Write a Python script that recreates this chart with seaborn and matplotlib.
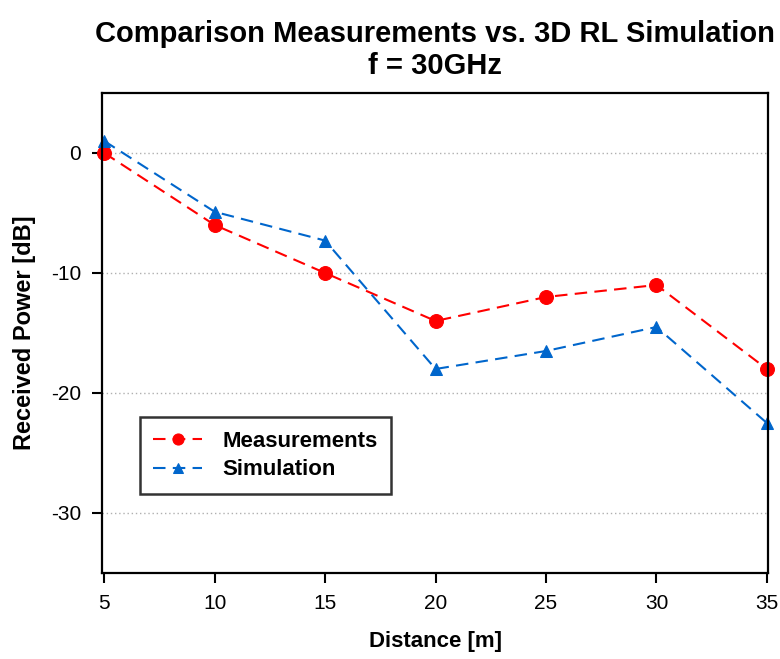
import matplotlib
matplotlib.use("Agg")
import matplotlib.pyplot as plt
import seaborn as sns
import pandas as pd

distance = [5, 10, 15, 20, 25, 30, 35]
measurements = [0, -6, -10, -14, -12, -11, -18]
simulation = [1, -4.9, -7.3, -18, -16.5, -14.5, -22.5]
series_names = ["Measurements", "Simulation"]
y_ticks = [0, -10, -20, -30]
x_ticks = [5, 10, 15, 20, 25, 30, 35]

sns.set_theme(style="white")
plt.rcParams['font.family'] = ['Liberation Sans', 'DejaVu Sans']
plt.rcParams['axes.unicode_minus'] = False
plt.rcParams['text.color'] = 'black'
plt.rcParams['axes.labelcolor'] = 'black'
plt.rcParams['xtick.color'] = 'black'
plt.rcParams['ytick.color'] = 'black'

df = pd.DataFrame({
    "Distance": distance * 2,
    "Power": measurements + simulation,
    "Series": [series_names[0]] * len(distance) + [series_names[1]] * len(distance),
})

fig = plt.figure(figsize=(7.8, 6.59), dpi=100)
ax = fig.add_axes([0.1308, 0.1305, 0.8538, 0.7284])

palette = {"Measurements": "#FF0000", "Simulation": "#0066CC"}
markers = {"Measurements": "o", "Simulation": "^"}
for name in series_names:
    sub = df[df["Series"] == name]
    sns.lineplot(data=sub, x="Distance", y="Power", ax=ax, color=palette[name],
                 marker=markers[name], markersize=10 if name == "Measurements" else 9,
                 markeredgecolor=palette[name], linewidth=1.5,
                 linestyle=(0, (6, 3.5)), label=name, clip_on=False)

ax.set_xlim(4.9, 35.05)
ax.set_ylim(-35, 5)
ax.set_xticks(x_ticks)
ax.set_yticks(y_ticks)
ax.tick_params(axis="both", which="major", direction="out", length=7, width=1.5,
               labelsize=15, color="black", bottom=True, left=True, pad=8)
for s in ax.spines.values():
    s.set_color("black")
    s.set_linewidth(1.6)
ax.yaxis.grid(True, linestyle=(0, (1, 2)), color="#b0b0b0", linewidth=1)
ax.xaxis.grid(False)

ax.set_xlabel("Distance [m]", fontsize=16, fontweight="bold", labelpad=13)
ax.set_ylabel("Received Power [dB]", fontsize=17, fontweight="bold", labelpad=11)
ax.set_title("Comparison Measurements vs. 3D RL Simulation\nf = 30GHz",
             fontsize=21, fontweight="bold", pad=14, linespacing=1.15)

leg = ax.legend(loc="lower left", bbox_to_anchor=(0.057, 0.165), frameon=True,
                fancybox=False, edgecolor="black", handlelength=2.2,
                markerscale=0.8, borderpad=0.6, labelspacing=0.35, handletextpad=0.9,
                borderaxespad=0, prop={"weight": "bold", "size": 16})
leg.get_frame().set_linewidth(1.8)

fig.savefig("out.png", dpi=100)
